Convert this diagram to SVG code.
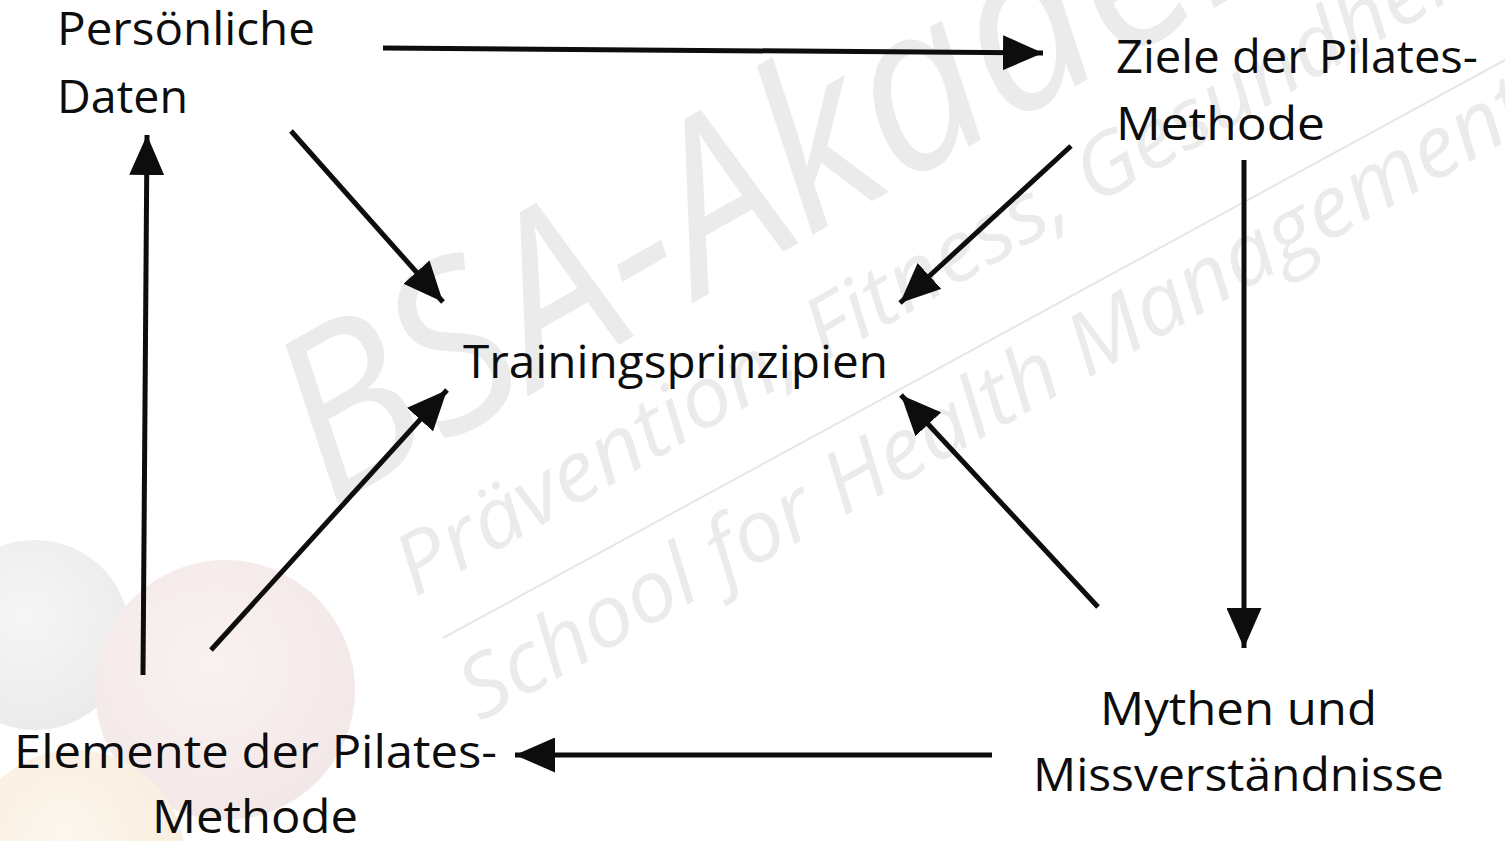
<svg xmlns="http://www.w3.org/2000/svg" width="1505" height="841" viewBox="0 0 1505 841">
<style>
.lbl{font-family:"Open Sans","Liberation Sans",sans-serif;font-size:46px;fill:#0d0d0d}
.wm{font-family:"Open Sans","Liberation Sans",sans-serif;font-style:italic;fill:#ebebeb}
.con{stroke:#0d0d0d;stroke-width:5;fill:none;marker-end:url(#ah)}
</style>
<defs>
<marker id="ah" viewBox="0 0 8 7" refX="8" refY="3.5" markerWidth="8" markerHeight="7" orient="auto" markerUnits="strokeWidth">
<path d="M0,0 L8,3.5 L0,7 Z" fill="#0d0d0d"/>
</marker>
<radialGradient id="gGray" cx="0.45" cy="0.4" r="0.6"><stop offset="0" stop-color="#f6f6f6"/><stop offset="1" stop-color="#ebebeb"/></radialGradient>
<radialGradient id="gRed" cx="0.45" cy="0.4" r="0.6"><stop offset="0" stop-color="#faf1f1"/><stop offset="1" stop-color="#f3e8e8"/></radialGradient>
<radialGradient id="gOr" cx="0.45" cy="0.4" r="0.6"><stop offset="0" stop-color="#fdf7ee"/><stop offset="1" stop-color="#f9eddd"/></radialGradient>
</defs>
<rect width="1505" height="841" fill="#ffffff"/>
<g id="watermark">
<circle cx="35" cy="635" r="95" fill="url(#gGray)"/>
<circle cx="225" cy="690" r="130" fill="url(#gRed)"/>
<circle cx="75" cy="860" r="110" fill="url(#gOr)"/>
<text class="wm" font-size="230" transform="translate(330,508) rotate(-29.5)" textLength="1360" lengthAdjust="spacingAndGlyphs">BSA-Akademie</text>
<line x1="443" y1="638" x2="1505" y2="60" stroke="#e6e6e6" stroke-width="2"/>
<text class="wm" font-size="84" transform="translate(415,598) rotate(-30)" textLength="1230" lengthAdjust="spacingAndGlyphs">Prävention, Fitness, Gesundheit</text>
<text class="wm" font-size="86" transform="translate(480,722) rotate(-29.5)" textLength="1215" lengthAdjust="spacingAndGlyphs">School for Health Management</text>
</g>
<g id="connectors">
<line class="con" x1="383" y1="48" x2="1043" y2="53"/>
<line class="con" x1="291" y1="131" x2="443" y2="302"/>
<line class="con" x1="1071" y1="146" x2="900" y2="303"/>
<line class="con" x1="1244" y1="160" x2="1244" y2="648"/>
<line class="con" x1="1098" y1="607" x2="901" y2="395"/>
<line class="con" x1="992" y1="755" x2="515" y2="755"/>
<line class="con" x1="211" y1="650" x2="447" y2="390"/>
<line class="con" x1="143" y1="675" x2="147" y2="135"/>
</g>
<g id="node-persoenliche">
<text class="lbl" x="57" y="45" textLength="258" lengthAdjust="spacingAndGlyphs">Persönliche</text>
<text class="lbl" x="57" y="113" textLength="131" lengthAdjust="spacingAndGlyphs">Daten</text>
</g>
<g id="node-ziele">
<text class="lbl" x="1116" y="73" textLength="362" lengthAdjust="spacingAndGlyphs">Ziele der Pilates-</text>
<text class="lbl" x="1116" y="140" textLength="209" lengthAdjust="spacingAndGlyphs">Methode</text>
</g>
<g id="node-training">
<text class="lbl" x="463" y="378" textLength="425" lengthAdjust="spacingAndGlyphs">Trainingsprinzipien</text>
</g>
<g id="node-mythen">
<text class="lbl" x="1100" y="725" textLength="277" lengthAdjust="spacingAndGlyphs">Mythen und</text>
<text class="lbl" x="1033" y="791" textLength="411" lengthAdjust="spacingAndGlyphs">Missverständnisse</text>
</g>
<g id="node-elemente">
<text class="lbl" x="14" y="768" textLength="483" lengthAdjust="spacingAndGlyphs">Elemente der Pilates-</text>
<text class="lbl" x="152" y="833" textLength="206" lengthAdjust="spacingAndGlyphs">Methode</text>
</g>
</svg>
